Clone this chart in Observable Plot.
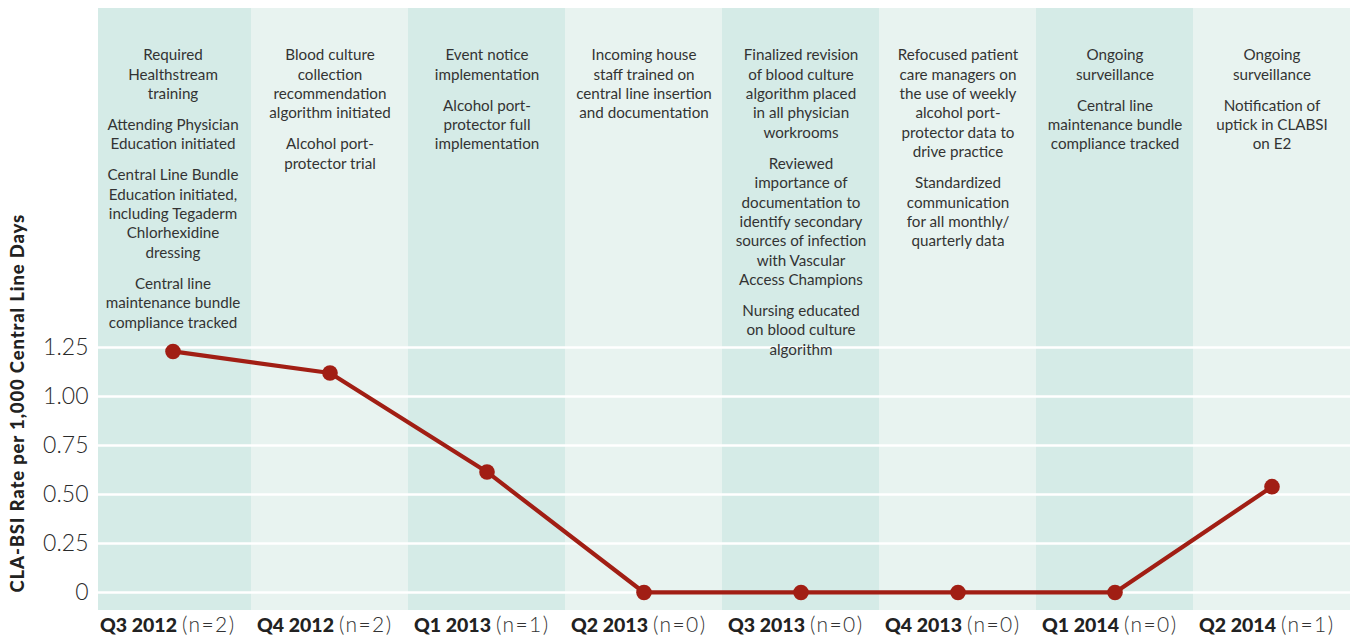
<!DOCTYPE html>
<html>
<head>
<meta charset="utf-8">
<script src="https://cdn.jsdelivr.net/npm/d3@7"></script>
<script src="https://cdn.jsdelivr.net/npm/@observablehq/plot@0.6"></script>
<style>
  html, body { margin: 0; padding: 0; background: #ffffff; overflow: hidden; }
  #chart { width: 1353px; height: 640px; }
  #chart svg { display: block; max-width: none !important; }
</style>
</head>
<body>
<div id="chart"></div>
<script>
// ---- Data ----
const quarters = ["Q3 2012", "Q4 2012", "Q1 2013", "Q2 2013", "Q3 2013", "Q4 2013", "Q1 2014", "Q2 2014"];
const counts = ["(n=2)", "(n=2)", "(n=1)", "(n=0)", "(n=0)", "(n=0)", "(n=0)", "(n=1)"];
const rates = [1.23, 1.12, 0.615, 0, 0, 0, 0, 0.54];
const yTicks = [0, 0.25, 0.5, 0.75, 1.0, 1.25];
const yLabel = "CLA-BSI Rate per 1,000 Central Line Days";

// Interventions per quarter: each entry is a paragraph, "\n" = line break
const notesQ3_2012 = [
  "Required\nHealthstream\ntraining",
  "Attending Physician\nEducation initiated",
  "Central Line Bundle\nEducation initiated,\nincluding Tegaderm\nChlorhexidine\ndressing",
  "Central line\nmaintenance bundle\ncompliance tracked"
];
const notesQ4_2012 = [
  "Blood culture\ncollection\nrecommendation\nalgorithm initiated",
  "Alcohol port-\nprotector trial"
];
const notesQ1_2013 = [
  "Event notice\nimplementation",
  "Alcohol port-\nprotector full\nimplementation"
];
const notesQ2_2013 = [
  "Incoming house\nstaff trained on\ncentral line insertion\nand documentation"
];
const notesQ3_2013 = [
  "Finalized revision\nof blood culture\nalgorithm placed\nin all physician\nworkrooms",
  "Reviewed\nimportance of\ndocumentation to\nidentify secondary\nsources of infection\nwith Vascular\nAccess Champions",
  "Nursing educated\non blood culture\nalgorithm"
];
const notesQ4_2013 = [
  "Refocused patient\ncare managers on\nthe use of weekly\nalcohol port-\nprotector data to\ndrive practice",
  "Standardized\ncommunication\nfor all monthly/\nquarterly data"
];
const notesQ1_2014 = [
  "Ongoing\nsurveillance",
  "Central line\nmaintenance bundle\ncompliance tracked"
];
const notesQ2_2014 = [
  "Ongoing\nsurveillance",
  "Notification of\nuptick in CLABSI\non E2"
];
const notes = [notesQ3_2012, notesQ4_2012, notesQ1_2013, notesQ2_2013, notesQ3_2013, notesQ4_2013, notesQ1_2014, notesQ2_2014];

// ---- Derived tables ----
const series = quarters.map((q, i) => ({quarter: q, rate: rates[i], n: counts[i]}));
const darkBands = quarters.filter((q, i) => i % 2 === 0);
const lightBands = quarters.filter((q, i) => i % 2 === 1);

// styling
const DARK = "#d5ebe7";
const LIGHT = "#e8f3f0";
const RED = "#a11e14";
const INK = "#333333";
const LABEL_INK = "#222221";   // y-axis title
const COUNT_INK = "#333334";   // "(n=…)" labels
const yMin = -0.092, yMax = 2.98;

const noteFont = 15.2;
const lineStep = 19.4;
const paraGap = 11.5;
const noteTop = 38;

// paragraphs with their vertical offset inside the column
const paragraphs = [];
notes.forEach((list, qi) => {
  let linesBefore = 0;
  list.forEach((text, pi) => {
    paragraphs.push({quarter: quarters[qi], text, dy: noteTop + linesBefore * lineStep + pi * paraGap});
    linesBefore += text.split("\n").length;
  });
});

const noteMarks = paragraphs.map(p => Plot.text([p], {
  x: "quarter",
  text: "text",
  frameAnchor: "top",
  lineAnchor: "top",
  dy: p.dy,
  fontSize: noteFont,
  lineHeight: lineStep / noteFont,
  fill: INK,
  textAnchor: "middle"
}));

const chart = Plot.plot({
  width: 1353,
  height: 640,
  marginLeft: 94,
  marginRight: 3,
  marginTop: 8,
  marginBottom: 30,
  style: {fontFamily: "Lato, 'Open Sans', sans-serif", background: "#ffffff", color: INK, maxWidth: "none"},
  x: {type: "band", domain: quarters, padding: 0, round: false, axis: null},
  y: {domain: [yMin, yMax], axis: null},
  marks: [
    Plot.barY(darkBands.slice(0, 1), {x: d => d, y1: yMin, y2: yMax, fill: DARK, insetLeft: 4}),
    Plot.barY(darkBands.slice(1), {x: d => d, y1: yMin, y2: yMax, fill: DARK}),
    Plot.barY(lightBands, {x: d => d, y1: yMin, y2: yMax, fill: LIGHT}),
    Plot.ruleY(yTicks, {stroke: "#ffffff", strokeWidth: 2.5, insetLeft: 4}),
    Plot.axisY({
      ticks: yTicks,
      tickFormat: d => d === 0 ? "0" : d.toFixed(2),
      tickSize: 0,
      tickPadding: 6,
      fontSize: 23,
      fontWeight: 300,
      label: null,
      fill: "#2a2a2a"
    }),
    Plot.text([yLabel], {
      y: [0],
      text: d => d,
      frameAnchor: "left",
      dx: -76,
      rotate: -90,
      textAnchor: "start",
      fontWeight: 900,
      fontSize: 18.5,
      fill: LABEL_INK
    }),
    ...noteMarks,
    Plot.line(series, {x: "quarter", y: "rate", stroke: RED, strokeWidth: 4.2}),
    Plot.dot(series, {x: "quarter", y: "rate", r: 7.8, fill: RED}),
    Plot.text(series, {
      x: "quarter", text: "quarter", frameAnchor: "bottom", dy: 21,
      textAnchor: "end", dx: 4, fontWeight: 900, fontSize: 19.5, fill: "#222"
    }),
    Plot.text(series, {
      x: "quarter", text: "n", frameAnchor: "bottom", dy: 21,
      textAnchor: "start", dx: 9, fontSize: 21, fontWeight: 300, fill: COUNT_INK
    })
  ]
});

// letter spacing (not a Plot option) applied to the rendered text
d3.select(chart).selectAll(`g[fill="${LABEL_INK}"] text`).style("letter-spacing", "0.85px");
d3.select(chart).selectAll(`g[fill="${COUNT_INK}"] text`).style("letter-spacing", "1.4px");

document.getElementById("chart").appendChild(chart);
</script>
</body>
</html>
